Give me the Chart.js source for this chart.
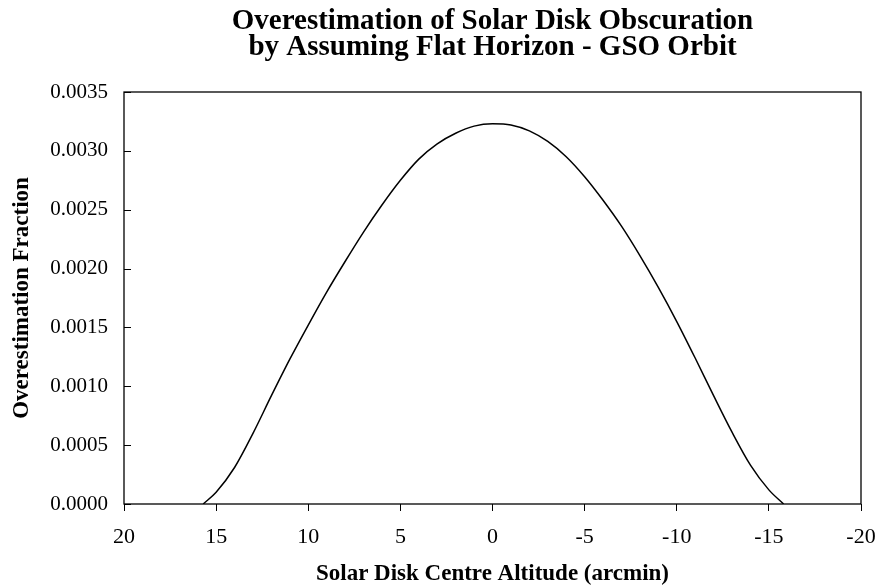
<!DOCTYPE html>
<html>
<head>
<meta charset="utf-8">
<script src="https://cdn.jsdelivr.net/npm/chart.js@4/dist/chart.umd.min.js"></script>
<style>
  html, body { margin: 0; padding: 0; background: #fff; }
  #wrap { width: 877px; height: 587px; }
</style>
</head>
<body>
<div id="wrap"><canvas id="c" width="877" height="587"></canvas></div>
<script>
// Solar disk centre altitude (arcmin) and overestimation fraction
const altitude = [15.7, 15, 14, 13, 12, 11, 10, 9, 8, 7, 6, 5, 4, 3, 2, 1, 0,
  -1, -2, -3, -4, -5, -6, -7, -8, -9, -10, -11, -12, -13, -14, -15, -15.8];
const overestimation = [0.00000, 0.00010, 0.00031, 0.00060, 0.00092, 0.00123, 0.00152,
  0.00180, 0.00206, 0.00231, 0.00254, 0.00275, 0.00293, 0.00306, 0.00315, 0.00321, 0.00323,
  0.00322, 0.00317, 0.00308, 0.00295, 0.00278, 0.00258, 0.00236, 0.00211, 0.00184, 0.00155,
  0.00124, 0.00092, 0.00061, 0.00033, 0.00012, 0.00000];
const titleLines = ['Overestimation of Solar Disk Obscuration', 'by Assuming Flat Horizon - GSO Orbit'];
const xTitle = 'Solar Disk Centre Altitude (arcmin)';
const yTitle = 'Overestimation Fraction';

const serif = '"Liberation Serif", "Times New Roman", serif';

const points = altitude.map((a, i) => ({ x: a, y: overestimation[i] }));

// Frame, inward y ticks and the text blocks around the plot
const decorations = {
  id: 'decorations',
  afterDraw(chart) {
    const { ctx, chartArea: a, scales } = chart;
    ctx.save();
    ctx.strokeStyle = '#000';
    ctx.lineWidth = 1.3;
    ctx.strokeRect(a.left, a.top, a.right - a.left, a.bottom - a.top);
    // y ticks pointing into the plot
    ctx.lineWidth = 1;
    scales.y.ticks.forEach(t => {
      const py = Math.round(scales.y.getPixelForValue(t.value)) + 0.5;
      ctx.beginPath();
      ctx.moveTo(a.left, py);
      ctx.lineTo(a.left + 7, py);
      ctx.stroke();
    });
    const cx = (a.left + a.right) / 2;
    ctx.fillStyle = '#000';
    ctx.textAlign = 'center';
    ctx.textBaseline = 'middle';
    ctx.font = 'bold 29px ' + serif;
    ctx.fillText(titleLines[0], cx, 22);
    ctx.fillText(titleLines[1], cx, 48);
    ctx.font = 'bold 23px ' + serif;
    ctx.fillText(xTitle, cx, 574);
    ctx.translate(22, (a.top + a.bottom) / 2);
    ctx.rotate(-Math.PI / 2);
    ctx.fillText(yTitle, 0, 0);
    ctx.restore();
  }
};

new Chart(document.getElementById('c'), {
  type: 'line',
  data: {
    datasets: [{
      data: points,
      borderColor: '#000',
      borderWidth: 1.5,
      pointRadius: 0,
      fill: false,
      cubicInterpolationMode: 'monotone'
    }]
  },
  options: {
    responsive: false,
    animation: false,
    layout: { padding: { left: 0, right: 16, top: 92, bottom: 0 } },
    plugins: { legend: { display: false }, title: { display: false }, tooltip: { enabled: false } },
    scales: {
      x: {
        type: 'linear',
        reverse: true,
        min: -20,
        max: 20,
        afterFit(s) { s.height = 83; s.paddingLeft = 0; s.paddingRight = 0; },
        afterBuildTicks(s) {
          s.ticks = [20, 15, 10, 5, 0, -5, -10, -15, -20].map(v => ({ value: v }));
        },
        ticks: {
          stepSize: 5,
          color: '#000',
          padding: 13,
          maxRotation: 0,
          font: { family: serif, size: 22 },
          callback: v => String(v)
        },
        grid: { display: true, drawOnChartArea: false, drawTicks: true, tickLength: 7, color: '#000', lineWidth: 1 },
        border: { display: false }
      },
      y: {
        min: 0,
        max: 0.0035,
        afterFit(s) { s.width = 124; s.paddingTop = 0; s.paddingBottom = 0; },
        ticks: {
          stepSize: 0.0005,
          color: '#000',
          padding: 8,
          font: { family: serif, size: 21 },
          callback: v => Number(v).toFixed(4)
        },
        grid: { display: false },
        border: { display: false }
      }
    }
  },
  plugins: [decorations]
});
</script>
</body>
</html>
